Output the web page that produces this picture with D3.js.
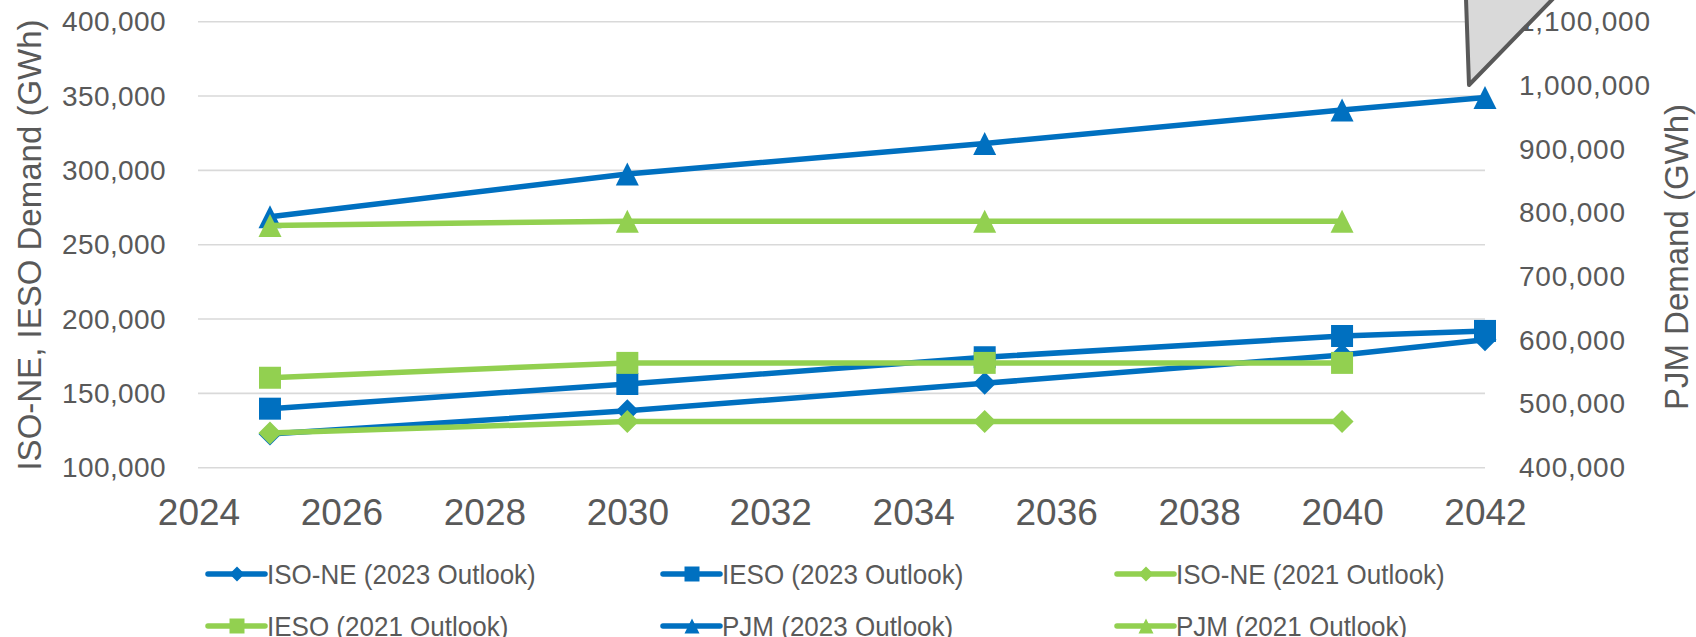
<!DOCTYPE html>
<html>
<head>
<meta charset="utf-8">
<script src="https://cdn.jsdelivr.net/npm/d3@7"></script>
<style>
  html, body { margin: 0; padding: 0; background: #ffffff; }
  svg { display: block; font-family: "Liberation Sans", Arial, sans-serif; }
</style>
</head>
<body>
<svg id="chart" width="1696" height="637"></svg>
<script>
// ---- Data ----
const years2023 = [2025, 2030, 2035, 2040, 2042];
const years2021 = [2025, 2030, 2035, 2040];
const isoNe2023 = [122600, 138300, 156800, 175800, 186000];
const ieso2023 = [139700, 156300, 174300, 188600, 192000];
const isoNe2021 = [123300, 131000, 131000, 131000];
const ieso2021 = [160500, 170500, 170500, 170500];
const pjm2023 = [794000, 861000, 909000, 961500, 981000];
const pjm2021 = [780000, 787000, 787000, 787000];

const xTicks = [2024, 2026, 2028, 2030, 2032, 2034, 2036, 2038, 2040, 2042];
const leftTicks = [100000, 150000, 200000, 250000, 300000, 350000, 400000];
const rightTicks = [400000, 500000, 600000, 700000, 800000, 900000, 1000000, 1100000];

const leftTitle = "ISO-NE, IESO Demand (GWh)";
const rightTitle = "PJM Demand (GWh)";

const BLUE = "#0070C0", GREEN = "#92D050", TEXT = "#595959", GRID = "#d9d9d9";

const series = [
  { name: "ISO-NE (2023 Outlook)", years: years2023, values: isoNe2023, axis: "L", color: BLUE, marker: "diamond" },
  { name: "IESO (2023 Outlook)", years: years2023, values: ieso2023, axis: "L", color: BLUE, marker: "square" },
  { name: "ISO-NE (2021 Outlook)", years: years2021, values: isoNe2021, axis: "L", color: GREEN, marker: "diamond" },
  { name: "IESO (2021 Outlook)", years: years2021, values: ieso2021, axis: "L", color: GREEN, marker: "square" },
  { name: "PJM (2023 Outlook)", years: years2023, values: pjm2023, axis: "R", color: BLUE, marker: "triangle" },
  { name: "PJM (2021 Outlook)", years: years2021, values: pjm2021, axis: "R", color: GREEN, marker: "triangle" }
];

// ---- Scales ----
const x = d3.scaleLinear().domain([2024, 2042]).range([198.5, 1485]);
const yL = d3.scaleLinear().domain([100000, 400000]).range([467.7, 21.7]);
const yR = d3.scaleLinear().domain([400000, 1100000]).range([467.7, 21.7]);

const svg = d3.select("#chart");
const fmt = d3.format(",");

// Gridlines
svg.append("g").selectAll("line").data(leftTicks).join("line")
  .attr("x1", 198).attr("x2", 1485)
  .attr("y1", d => yL(d)).attr("y2", d => yL(d))
  .attr("stroke", GRID).attr("stroke-width", 1.6);

// Left axis
const gL = svg.append("g").attr("transform", "translate(166,0)")
  .call(d3.axisLeft(yL).tickValues(leftTicks).tickFormat(fmt).tickSize(0).tickPadding(0));
gL.select(".domain").remove();
gL.selectAll("text").attr("font-size", 28).attr("fill", TEXT)
  .attr("font-family", "'Liberation Sans', Arial, sans-serif").attr("letter-spacing", 0.4);

// Right axis
const gR = svg.append("g").attr("transform", "translate(1519,0)")
  .call(d3.axisRight(yR).tickValues(rightTicks).tickFormat(fmt).tickSize(0).tickPadding(0));
gR.select(".domain").remove();
gR.selectAll("text").attr("font-size", 28).attr("fill", TEXT)
  .attr("font-family", "'Liberation Sans', Arial, sans-serif").attr("letter-spacing", 0.8);

// Bottom axis
const gB = svg.append("g").attr("transform", "translate(0,467.7)")
  .call(d3.axisBottom(x).tickValues(xTicks).tickFormat(d3.format("d")).tickSize(0).tickPadding(0));
gB.select(".domain").remove();
gB.selectAll("text").attr("font-size", 37).attr("fill", TEXT)
  .attr("font-family", "'Liberation Sans', Arial, sans-serif")
  .attr("dy", null).attr("y", 57);

// Axis titles
svg.append("text")
  .attr("transform", "translate(41,245) rotate(-90)")
  .attr("text-anchor", "middle").attr("font-size", 33).attr("fill", TEXT)
  .text(leftTitle);
svg.append("text")
  .attr("transform", "translate(1688,257) rotate(-90)")
  .attr("text-anchor", "middle").attr("font-size", 33).attr("fill", TEXT)
  .text(rightTitle);

// Marker paths
function markerPath(type, s) {
  const h = s / 2;
  if (type === "diamond") return `M0,${-h}L${h},0L0,${h}L${-h},0Z`;
  if (type === "square") return `M${-h},${-h}H${h}V${h}H${-h}Z`;
  return `M0,${-h}L${h},${h}L${-h},${h}Z`;
}

// Series
const lineGen = d3.line().x(d => x(d.year)).y(d => d.y);
series.forEach(s => {
  const yS = s.axis === "L" ? yL : yR;
  const pts = s.years.map((yr, i) => ({ year: yr, y: yS(s.values[i]) }));
  const g = svg.append("g");
  g.append("path").datum(pts).attr("d", lineGen)
    .attr("fill", "none").attr("stroke", s.color).attr("stroke-width", 5.5)
    .attr("stroke-linejoin", "round").attr("stroke-linecap", "round");
  g.selectAll("path.m").data(pts).join("path").attr("class", "m")
    .attr("transform", d => `translate(${x(d.year)},${d.y})`)
    .attr("d", markerPath(s.marker, s.marker === "square" ? 22 : 23))
    .attr("fill", s.color);
});

// Callout shape (annotation partially outside the view)
svg.append("path")
  .attr("d", "M1465,-30 L1469,85 L1581,-30 Z")
  .attr("fill", "#d9d9d9").attr("stroke", "#595959").attr("stroke-width", 4)
  .attr("stroke-linejoin", "round");

// Legend
const legendPos = [
  { lx: 208, y: 574 }, { lx: 663, y: 574 }, { lx: 1117, y: 574 },
  { lx: 208, y: 626 }, { lx: 663, y: 626 }, { lx: 1117, y: 626 }
];
const lg = svg.append("g");
series.forEach((s, i) => {
  const p = legendPos[i];
  const g = lg.append("g").attr("transform", `translate(${p.lx},${p.y})`);
  g.append("line").attr("x1", 0).attr("x2", 57).attr("y1", 0).attr("y2", 0)
    .attr("stroke", s.color).attr("stroke-width", 5.5).attr("stroke-linecap", "round");
  g.append("path").attr("transform", "translate(29,0)")
    .attr("d", markerPath(s.marker, 15)).attr("fill", s.color);
  const t = g.append("text").attr("x", 59).attr("y", 0).attr("dy", "0.36em")
    .attr("font-size", 26).attr("fill", TEXT).text(s.name);
  const w = t.node().getComputedTextLength();
  t.attr("font-size", 28.5).attr("textLength", w).attr("lengthAdjust", "spacingAndGlyphs");
});
</script>
</body>
</html>
